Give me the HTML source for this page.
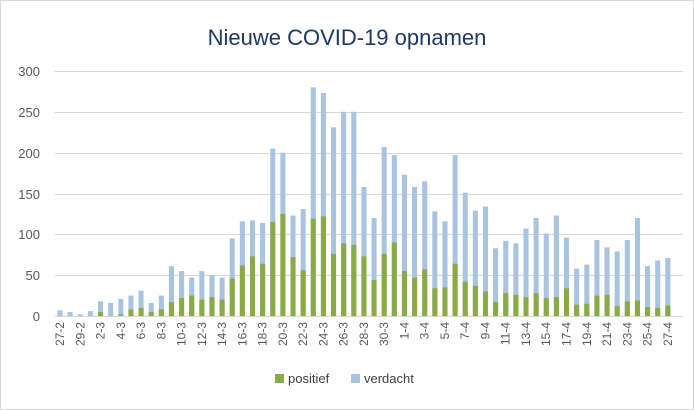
<!DOCTYPE html>
<html><head><meta charset="utf-8"><style>
html,body{margin:0;padding:0;background:#fff;}
svg{display:block;font-family:"Liberation Sans",sans-serif;}
</style></head><body>
<svg width="694" height="410" viewBox="0 0 694 410">
<rect x="0.5" y="0.5" width="693" height="409" fill="#fff" stroke="#d9d9d9"/>
<text x="347" y="45" text-anchor="middle" font-size="22" fill="#1f3864">Nieuwe COVID-19 opnamen</text>
<g stroke="#d9d9d9" stroke-width="1">
<line x1="55" x2="683" y1="71.5" y2="71.5"/><line x1="55" x2="683" y1="112.5" y2="112.5"/><line x1="55" x2="683" y1="153.5" y2="153.5"/><line x1="55" x2="683" y1="194.5" y2="194.5"/><line x1="55" x2="683" y1="234.5" y2="234.5"/><line x1="55" x2="683" y1="275.5" y2="275.5"/><line x1="55" x2="683" y1="316.5" y2="316.5"/>
</g>
<g font-size="13" fill="#595959" text-anchor="end">
<text x="40" y="76">300</text><text x="40" y="117">250</text><text x="40" y="158">200</text><text x="40" y="199">150</text><text x="40" y="239">100</text><text x="40" y="280">50</text><text x="40" y="321">0</text>
</g>
<g transform="translate(57.5,316) scale(10.13,-0.8167)">
<g fill="#a9c4e0">
<rect x="0" y="0" width="0.5" height="7"/><rect x="1" y="0" width="0.5" height="5"/><rect x="2" y="0" width="0.5" height="2"/><rect x="3" y="0" width="0.5" height="6"/><rect x="4" y="0" width="0.5" height="18"/><rect x="5" y="0" width="0.5" height="16"/><rect x="6" y="0" width="0.5" height="21"/><rect x="7" y="0" width="0.5" height="25"/><rect x="8" y="0" width="0.5" height="31"/><rect x="9" y="0" width="0.5" height="16"/><rect x="10" y="0" width="0.5" height="25"/><rect x="11" y="0" width="0.5" height="61"/><rect x="12" y="0" width="0.5" height="55"/><rect x="13" y="0" width="0.5" height="47"/><rect x="14" y="0" width="0.5" height="55"/><rect x="15" y="0" width="0.5" height="50"/><rect x="16" y="0" width="0.5" height="47"/><rect x="17" y="0" width="0.5" height="95"/><rect x="18" y="0" width="0.5" height="116"/><rect x="19" y="0" width="0.5" height="117"/><rect x="20" y="0" width="0.5" height="114"/><rect x="21" y="0" width="0.5" height="205"/><rect x="22" y="0" width="0.5" height="200"/><rect x="23" y="0" width="0.5" height="123"/><rect x="24" y="0" width="0.5" height="131"/><rect x="25" y="0" width="0.5" height="280"/><rect x="26" y="0" width="0.5" height="273"/><rect x="27" y="0" width="0.5" height="231"/><rect x="28" y="0" width="0.5" height="250"/><rect x="29" y="0" width="0.5" height="250"/><rect x="30" y="0" width="0.5" height="158"/><rect x="31" y="0" width="0.5" height="120"/><rect x="32" y="0" width="0.5" height="207"/><rect x="33" y="0" width="0.5" height="197"/><rect x="34" y="0" width="0.5" height="173"/><rect x="35" y="0" width="0.5" height="158"/><rect x="36" y="0" width="0.5" height="165"/><rect x="37" y="0" width="0.5" height="128"/><rect x="38" y="0" width="0.5" height="116"/><rect x="39" y="0" width="0.5" height="197"/><rect x="40" y="0" width="0.5" height="151"/><rect x="41" y="0" width="0.5" height="129"/><rect x="42" y="0" width="0.5" height="134"/><rect x="43" y="0" width="0.5" height="83"/><rect x="44" y="0" width="0.5" height="92"/><rect x="45" y="0" width="0.5" height="89"/><rect x="46" y="0" width="0.5" height="107"/><rect x="47" y="0" width="0.5" height="120"/><rect x="48" y="0" width="0.5" height="101"/><rect x="49" y="0" width="0.5" height="123"/><rect x="50" y="0" width="0.5" height="96"/><rect x="51" y="0" width="0.5" height="58"/><rect x="52" y="0" width="0.5" height="63"/><rect x="53" y="0" width="0.5" height="93"/><rect x="54" y="0" width="0.5" height="84"/><rect x="55" y="0" width="0.5" height="79"/><rect x="56" y="0" width="0.5" height="93"/><rect x="57" y="0" width="0.5" height="120"/><rect x="58" y="0" width="0.5" height="61"/><rect x="59" y="0" width="0.5" height="68"/><rect x="60" y="0" width="0.5" height="71"/>
</g>
<g fill="#8aaa45">
<rect x="4" y="0" width="0.5" height="5"/><rect x="6" y="0" width="0.5" height="2"/><rect x="7" y="0" width="0.5" height="8"/><rect x="8" y="0" width="0.5" height="10"/><rect x="9" y="0" width="0.5" height="5"/><rect x="10" y="0" width="0.5" height="8"/><rect x="11" y="0" width="0.5" height="17"/><rect x="12" y="0" width="0.5" height="22"/><rect x="13" y="0" width="0.5" height="25"/><rect x="14" y="0" width="0.5" height="20"/><rect x="15" y="0" width="0.5" height="23"/><rect x="16" y="0" width="0.5" height="20"/><rect x="17" y="0" width="0.5" height="46"/><rect x="18" y="0" width="0.5" height="62"/><rect x="19" y="0" width="0.5" height="73"/><rect x="20" y="0" width="0.5" height="64"/><rect x="21" y="0" width="0.5" height="115"/><rect x="22" y="0" width="0.5" height="125"/><rect x="23" y="0" width="0.5" height="72"/><rect x="24" y="0" width="0.5" height="56"/><rect x="25" y="0" width="0.5" height="119"/><rect x="26" y="0" width="0.5" height="122"/><rect x="27" y="0" width="0.5" height="76"/><rect x="28" y="0" width="0.5" height="89"/><rect x="29" y="0" width="0.5" height="87"/><rect x="30" y="0" width="0.5" height="73"/><rect x="31" y="0" width="0.5" height="44"/><rect x="32" y="0" width="0.5" height="76"/><rect x="33" y="0" width="0.5" height="90"/><rect x="34" y="0" width="0.5" height="55"/><rect x="35" y="0" width="0.5" height="47"/><rect x="36" y="0" width="0.5" height="57"/><rect x="37" y="0" width="0.5" height="34"/><rect x="38" y="0" width="0.5" height="35"/><rect x="39" y="0" width="0.5" height="64"/><rect x="40" y="0" width="0.5" height="42"/><rect x="41" y="0" width="0.5" height="37"/><rect x="42" y="0" width="0.5" height="30"/><rect x="43" y="0" width="0.5" height="17"/><rect x="44" y="0" width="0.5" height="28"/><rect x="45" y="0" width="0.5" height="26"/><rect x="46" y="0" width="0.5" height="23"/><rect x="47" y="0" width="0.5" height="28"/><rect x="48" y="0" width="0.5" height="22"/><rect x="49" y="0" width="0.5" height="23"/><rect x="50" y="0" width="0.5" height="34"/><rect x="51" y="0" width="0.5" height="14"/><rect x="52" y="0" width="0.5" height="15"/><rect x="53" y="0" width="0.5" height="25"/><rect x="54" y="0" width="0.5" height="26"/><rect x="55" y="0" width="0.5" height="12"/><rect x="56" y="0" width="0.5" height="18"/><rect x="57" y="0" width="0.5" height="19"/><rect x="58" y="0" width="0.5" height="11"/><rect x="59" y="0" width="0.5" height="10"/><rect x="60" y="0" width="0.5" height="13"/>
</g>
</g>
<g font-size="12" fill="#595959" text-anchor="end">
<text transform="translate(64,322) rotate(-90)">27-2</text>
<text transform="translate(84.3,322) rotate(-90)">29-2</text>
<text transform="translate(104.5,322) rotate(-90)">2-3</text>
<text transform="translate(124.8,322) rotate(-90)">4-3</text>
<text transform="translate(145,322) rotate(-90)">6-3</text>
<text transform="translate(165.3,322) rotate(-90)">8-3</text>
<text transform="translate(185.6,322) rotate(-90)">10-3</text>
<text transform="translate(205.8,322) rotate(-90)">12-3</text>
<text transform="translate(226.1,322) rotate(-90)">14-3</text>
<text transform="translate(246.3,322) rotate(-90)">16-3</text>
<text transform="translate(266.6,322) rotate(-90)">18-3</text>
<text transform="translate(286.9,322) rotate(-90)">20-3</text>
<text transform="translate(307.1,322) rotate(-90)">22-3</text>
<text transform="translate(327.4,322) rotate(-90)">24-3</text>
<text transform="translate(347.6,322) rotate(-90)">26-3</text>
<text transform="translate(367.9,322) rotate(-90)">28-3</text>
<text transform="translate(388.2,322) rotate(-90)">30-3</text>
<text transform="translate(408.4,322) rotate(-90)">1-4</text>
<text transform="translate(428.7,322) rotate(-90)">3-4</text>
<text transform="translate(448.9,322) rotate(-90)">5-4</text>
<text transform="translate(469.2,322) rotate(-90)">7-4</text>
<text transform="translate(489.5,322) rotate(-90)">9-4</text>
<text transform="translate(509.7,322) rotate(-90)">11-4</text>
<text transform="translate(530,322) rotate(-90)">13-4</text>
<text transform="translate(550.2,322) rotate(-90)">15-4</text>
<text transform="translate(570.5,322) rotate(-90)">17-4</text>
<text transform="translate(590.8,322) rotate(-90)">19-4</text>
<text transform="translate(611,322) rotate(-90)">21-4</text>
<text transform="translate(631.3,322) rotate(-90)">23-4</text>
<text transform="translate(651.5,322) rotate(-90)">25-4</text>
<text transform="translate(671.8,322) rotate(-90)">27-4</text>
</g>
<rect x="275" y="374" width="9" height="9" fill="#8aaa45"/>
<text x="288" y="383" font-size="13" fill="#404040">positief</text>
<rect x="351" y="374" width="9" height="9" fill="#a9c4e0"/>
<text x="364" y="383" font-size="13" fill="#404040">verdacht</text>
</svg>
</body></html>
